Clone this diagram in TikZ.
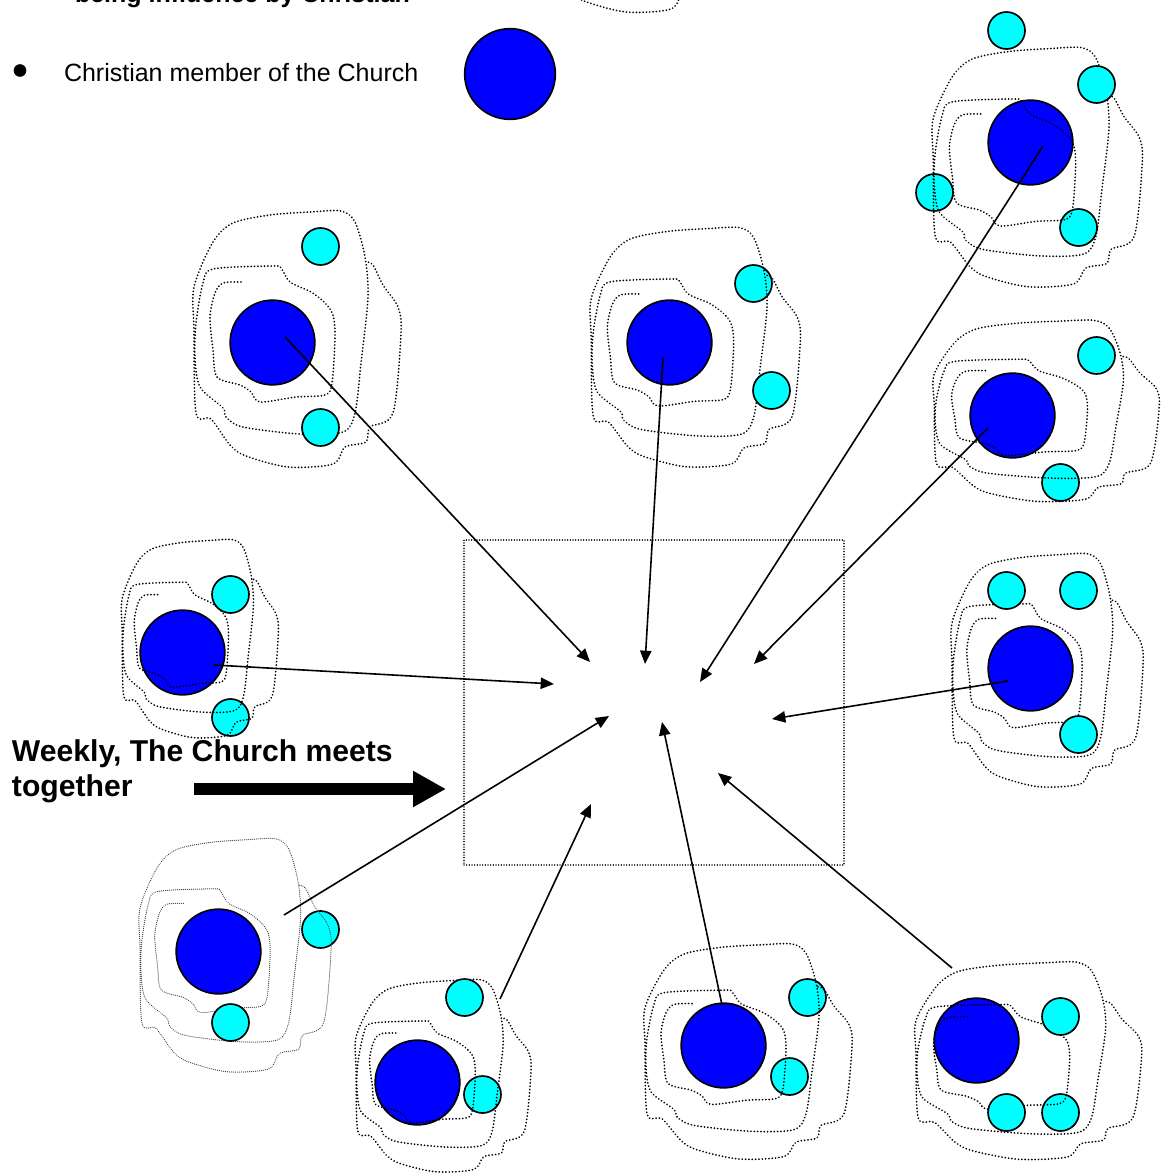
\documentclass[tikz,border=0pt]{standalone}
\usepackage{fontspec}
\setmainfont{Liberation Sans}
\usetikzlibrary{arrows.meta}
\newcommand{\blobpath}{plot[smooth,tension=0.5] coordinates {(-31,-60)(-49,-59)(-57,-49)(-62,-25)(-59,8)(-55,35)(-32,43)(-21,50)(-12,60)(24,55)(53,53)(60,41)(63,-5)(61,-27)(53,-39)(39,-50)(18,-60)(9,-74)(1,-76)(-59,-73)(-69,-59)(-76,-19)(-77,15)(-72,45)(-49,66)(-46,75)(-29,85)(28,92)(71,90)(83,71)(89,21)(96,-45)(93,-85)(83,-120)(69,-131)(38,-130)(-2,-127)(-39,-119)(-59,-100)(-78,-55)(-78,-12)(-76,71)(-61,77)(-42,103)(-26,114)(16,125)(61,122)(73,105)(94,100)(98,85)(121,71)(129,-9)(126,-35)(111,-57)(101,-77)(94,-80)}}
\newcommand{\blob}[5][blobline]{\begin{scope}[shift={(#2,#3)},xscale=#4,yscale=#5]\draw[#1] \blobpath;\end{scope}}
\tikzset{
  x=0.75pt,y=-0.75pt,
  blobline/.style={draw=black,line width=1.4pt,line cap=round,dash pattern=on 0.05pt off 2.45pt},
  grayblob/.style={draw=black!75,line width=0.9pt,line cap=round,dash pattern=on 0.05pt off 1.45pt},
  member/.style={circle,draw=black,line width=1.25pt,fill=blue,minimum size=63.5pt,inner sep=0pt},
  friend/.style={circle,draw=black,line width=1.25pt,fill=cyan,minimum size=27.75pt,inner sep=0pt},
  conn/.style={draw=black,line width=1.2pt,-{Triangle[length=10pt,width=8.5pt]}},
  bigconn/.style={draw=black,line width=9pt,-{Triangle[length=24.75pt,width=25.5pt]}},
  room/.style={draw=black,line width=1pt,line cap=round,dash pattern=on 0.05pt off 1.95pt},
  heading/.style={font=\fontsize{22.6pt}{26pt}\bfseries\selectfont,anchor=base west,inner sep=0pt,outer sep=0pt},
  smallheading/.style={font=\fontsize{18.75pt}{24pt}\bfseries\selectfont,anchor=base west,inner sep=0pt,outer sep=0pt},
  plain/.style={font=\fontsize{18.75pt}{22pt}\selectfont,anchor=base west,inner sep=0pt,outer sep=0pt},
}
\definecolor{cyan}{RGB}{0,255,255}
\definecolor{blue}{RGB}{0,0,255}
\begin{document}
\begin{tikzpicture}
\useasboundingbox (0,0) rectangle (1162,1173);
\clip (0,0) rectangle (1162,1173);
% legend
\node[smallheading] (legendtop) at (75,3) {being influence by Christian};
\node[circle,fill=black,minimum size=9.5pt,inner sep=0pt] (bullet) at (20,70.5) {};
\node[plain] (legendtext) at (64,82) {Christian member of the Church};
\node[member,minimum width=68pt,minimum height=67pt] (legendblue) at (510,74) {};
\blob{610}{-113}{1}{1}
% meeting room
\node[room,minimum width=285pt,minimum height=243.75pt,inner sep=0pt] (church) at (654,702.5) {};
% groups
\blob{272}{342}{1}{1}
\node[member] (b1) at (272.5,342.5) {};
\node[friend] (c1a) at (320.5,246.5) {};
\node[friend] (c1b) at (320.5,427.5) {};

\node[member] (b2) at (669.5,342.5) {};
\node[friend] (c2a) at (753.5,283.5) {};
\blob{670}{350}{1.01}{0.934}
\node[friend] (c2b) at (771.5,390.5) {};

\node[member] (b3) at (1030.5,142.5) {};
\node[friend] (c3c) at (934.5,192.5) {};
\node[friend] (c3d) at (1078.5,227.5) {};
\blob{1012}{170}{1.01}{0.934}
\node[friend] (c3a) at (1006.5,30.5) {};
\node[friend] (c3b) at (1096.5,84.5) {};

\node[member] (b4) at (1012.5,415.5) {};
\node[friend] (c4b) at (1060.5,482.5) {};
\blob{1019}{413}{1.087}{0.707}
\node[friend] (c4a) at (1096.5,355.5) {};

\blob{1024}{673}{0.923}{0.91}
\node[member] (b5) at (1030.5,668.5) {};
\node[friend] (c5a) at (1006.5,590.5) {};
\node[friend] (c5b) at (1078.5,590.5) {};
\node[friend] (c5c) at (1078.5,734.5) {};

\node[member] (b6) at (976.5,1040.5) {};
\node[friend] (c6c) at (1060.5,1112.5) {};
\blob{1001}{1063}{1.09}{0.77}
\node[friend] (c6a) at (1060.5,1016.5) {};
\node[friend] (c6b) at (1006.5,1112.5) {};

\node[member] (b7) at (723.5,1045.5) {};
\node[friend] (c7a) at (807.5,997.5) {};
\node[friend] (c7b) at (789.5,1076.5) {};
\blob{723}{1054}{1}{0.84}

\node[member] (b8) at (417.5,1082.5) {};
\node[friend] (c8b) at (482.5,1094.5) {};
\blob{422}{1078}{0.845}{0.75}
\node[friend] (c8a) at (464.5,997.5) {};

\node[friend] (c9a) at (320.5,929.5) {};
\blob[grayblob]{212}{958}{0.923}{0.91}
\node[member] (b9) at (218.5,951.5) {};
\node[friend] (c9b) at (230.5,1022.5) {};

\node[member] (b10) at (182.5,652.5) {};
\node[friend] (c10b) at (230.5,717.5) {};
\blob{181}{641}{0.754}{0.773}
\node[friend] (c10a) at (230.5,594.5) {};
% connectors
\coordinate (s1) at (285,337); \coordinate (e1) at (590,662);
\coordinate (s2) at (663,358); \coordinate (e2) at (645,664);
\coordinate (s3) at (1043,146); \coordinate (e3) at (700,682);
\coordinate (s4) at (988,428); \coordinate (e4) at (754,664);
\coordinate (s5) at (1008,681); \coordinate (e5) at (772,719);
\coordinate (s6) at (952,968); \coordinate (e6) at (718,773);
\coordinate (s7) at (722,1005); \coordinate (e7) at (662,722);
\coordinate (s8) at (500,999); \coordinate (e8) at (591,804);
\coordinate (s9) at (284,915); \coordinate (e9) at (609,716);
\coordinate (s10) at (214,665); \coordinate (e10) at (554,684);
\foreach \i in {1,...,10}{\draw[conn] (s\i) -- (e\i);}
% caption
\node[heading] (cap1) at (12,761) {Weekly, The Church meets};
\node[heading] (cap2) at (12,796) {together};
\coordinate (bigs) at (194,789); \coordinate (bige) at (446,789);
\draw[bigconn] (bigs) -- (bige);
\end{tikzpicture}
\end{document}
